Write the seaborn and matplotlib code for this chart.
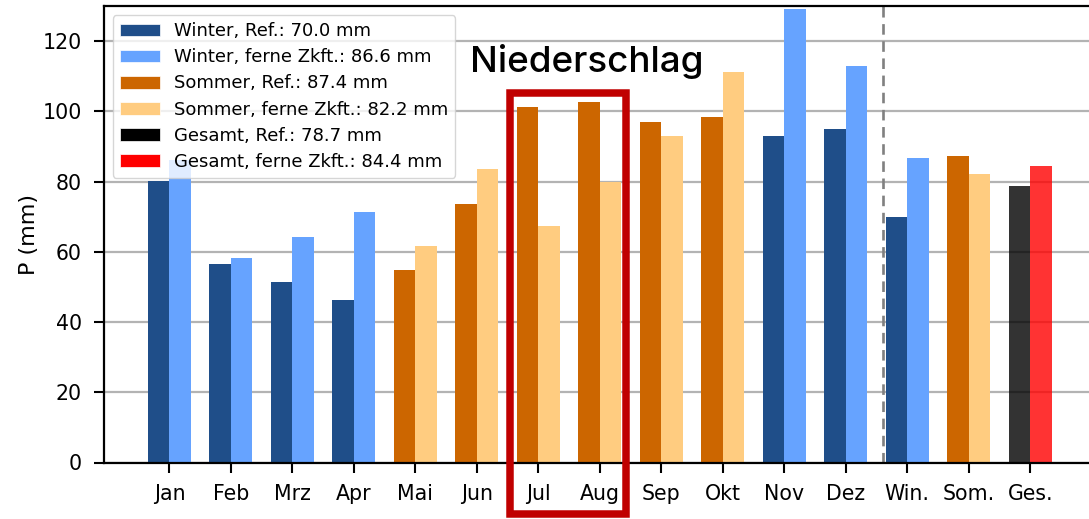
import numpy as np
import pandas as pd
import matplotlib
matplotlib.use("Agg")
import matplotlib.pyplot as plt
from matplotlib.patches import Patch, Rectangle
import seaborn as sns

# ---- data ----
categories = ["Jan", "Feb", "Mrz", "Apr", "Mai", "Jun", "Jul", "Aug",
              "Sep", "Okt", "Nov", "Dez", "Win.", "Som.", "Ges."]
ref_values = [80.2, 56.5, 51.3, 46.2, 54.8, 73.6, 101.2, 102.6,
              97.1, 98.5, 92.9, 94.9, 70.0, 87.4, 78.7]
fut_values = [86.2, 58.2, 64.2, 71.3, 61.6, 83.6, 67.3, 79.8,
              93.1, 111.3, 129.1, 112.9, 86.6, 82.2, 84.4]
groups = ["Winter", "Winter", "Winter", "Winter", "Sommer", "Sommer", "Sommer",
          "Sommer", "Sommer", "Sommer", "Winter", "Winter", "Winter", "Sommer", "Gesamt"]
legend_labels = ["Winter, Ref.: 70.0 mm", "Winter, ferne Zkft.: 86.6 mm",
                 "Sommer, Ref.: 87.4 mm", "Sommer, ferne Zkft.: 82.2 mm",
                 "Gesamt, Ref.: 78.7 mm", "Gesamt, ferne Zkft.: 84.4 mm"]
yticks = [0, 20, 40, 60, 80, 100, 120]

palettes = {
    "Winter": ["#1f4e89", "#66a3ff"],
    "Sommer": ["#cc6600", "#ffcc80"],
    "Gesamt": ["#000000", "#ff0000"],
}
legend_colors = ["#1f4e89", "#66a3ff", "#cc6600", "#ffcc80", "#000000", "#ff0000"]

df = pd.DataFrame({
    "Monat": categories * 2,
    "Periode": ["Ref"] * len(categories) + ["Zkft"] * len(categories),
    "P": ref_values + fut_values,
    "Gruppe": groups * 2,
})

sns.set_style("white")
plt.rcParams["font.family"] = ["DejaVu Sans"]
plt.rcParams["text.color"] = "black"
plt.rcParams["axes.labelcolor"] = "black"
plt.rcParams["xtick.color"] = "black"
plt.rcParams["ytick.color"] = "black"

fig = plt.figure(figsize=(10.89, 5.19), dpi=100)
ax = fig.add_axes([103.6 / 1089, 1 - 462.5 / 519, (1096 - 103.6) / 1089, (462.5 - 6) / 519])
ax.set_axisbelow(True)

for g in ["Winter", "Sommer", "Gesamt"]:
    sub = df[df["Gruppe"] == g]
    sns.barplot(data=sub, x="Monat", y="P", hue="Periode", order=categories,
                hue_order=["Ref", "Zkft"], palette=palettes[g], saturation=1,
                errorbar=None, width=0.7, alpha=0.8 if g == "Gesamt" else 1.0,
                linewidth=0, legend=False, ax=ax)

ax.set_xlim(-1.07, 15.07)
ax.set_ylim(0, 130)
ax.set_yticks(yticks)
ax.yaxis.grid(True, color="#b3b3b3", linewidth=1.6)
ax.xaxis.grid(False)
ax.axvline(11.6, color="#808080", linestyle=(0, (4, 2.5)), linewidth=1.9, zorder=1)

ax.set_xlabel("")
ax.set_ylabel("P (mm)", fontsize=16, labelpad=2.5)
ax.tick_params(axis="both", labelsize=14.8, length=7.2, width=1.5, pad=8.5,
               direction="out", bottom=True, left=True)
for s in ax.spines.values():
    s.set_linewidth(1.6)
    s.set_color("black")

handles = [Patch(facecolor=c, edgecolor="white", linewidth=0.5) for c in legend_colors]
ax.legend(handles, legend_labels, loc="upper left", fontsize=13, framealpha=0.8,
          handlelength=2.2, labelspacing=0.45, borderpad=0.4)

ax.text(6.79, 111.2, "Niederschlag", fontsize=26.5, family=["Inter", "DejaVu Sans"],
        fontweight="medium", ha="center", va="baseline", zorder=6)

ax.add_patch(Rectangle((5.54, -14.8), 7.43 - 5.54, 105.2 + 14.8, fill=False,
                       edgecolor="#c00000", linewidth=5.4, clip_on=False, zorder=7))

fig.savefig("out.png", dpi=100)
